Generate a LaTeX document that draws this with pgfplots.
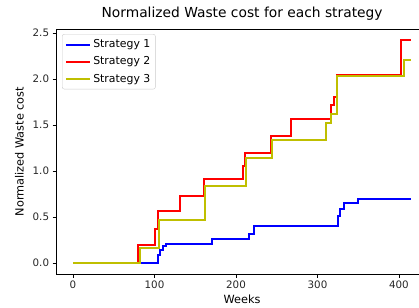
\documentclass[border=0pt]{standalone}
\usepackage{pgfplots}
\pgfplotsset{compat=1.18}
\usepackage{fontspec}
\setmainfont{DejaVu Sans}
\definecolor{myyellow}{rgb}{0.75,0.75,0}
\begin{document}
\begin{tikzpicture}[x=1pt,y=1pt]
\useasboundingbox (0,0) rectangle (419,307);
\begin{axis}[
  at={(56.1pt,32.9pt)}, anchor=south west,
  scale only axis, width=372pt, height=244.9pt,
  xmin=-20.75, xmax=435.75, ymin=-0.121, ymax=2.541,
  xtick={0,100,200,300,400},
  ytick={0,0.5,1,1.5,2,2.5},
  yticklabel style={/pgf/number format/.cd, fixed, fixed zerofill, precision=1},
  /pgf/number format/assume math mode=true,
  tick align=outside, xtick pos=left, ytick pos=left,
  major tick length=3.5pt,
  tick style={black, line width=0.8pt},
  axis line style={black, line width=0.8pt},
  axis y line*=left,
  every tick label/.append style={font=\fontsize{10.3}{12}\selectfont, text=black!85},
  title={Normalized Waste cost for each strategy},
  title style={font=\fontsize{13.8}{16}\selectfont, anchor=base, at={(axis description cs:0.5,1.0245)}, inner sep=0pt},
  xlabel={Weeks},
  xlabel style={font=\fontsize{11.3}{13}\selectfont, anchor=north, at={(axis description cs:0.5,-0.0857)}, inner sep=0pt},
  ylabel={Normalized Waste cost},
  ylabel style={font=\fontsize{11.3}{13}\selectfont, anchor=south, at={(axis description cs:-0.086,0.5)}, inner sep=0pt},
  legend style={at={(axis description cs:0.016,0.98)}, anchor=north west,
    draw=black!20, rounded corners=2pt, fill=white, fill opacity=0.8, text opacity=1,
    font=\fontsize{10.9}{13}\selectfont, inner xsep=3pt, inner ysep=3.5pt,
    row sep=3.5pt},
  legend cell align=left,
  legend image code/.code={\draw[#1] (0pt,0pt) -- (24pt,0pt);},
  clip=false,
]
\addplot[const plot, blue, line width=2pt] coordinates {
(0,0) (104.7,0.087) (107,0.14) (110,0.18) (114,0.21) (170,0.26) (216,0.32) (222.5,0.40)
(325,0.51) (328,0.59) (332,0.655) (350,0.695) (415,0.695)};
\addlegendentry{Strategy 1}
\addplot[const plot, red, line width=2pt] coordinates {
(0,0) (80,0.2) (101,0.37) (104,0.56) (131,0.73) (161,0.91) (208,1.05) (211,1.20)
(243,1.38) (267,1.57) (316,1.72) (320,1.80) (324,2.04) (402,2.42) (414.5,2.42)};
\addlegendentry{Strategy 2}
\addplot[const plot, myyellow, line width=2pt] coordinates {
(0,0) (82,0.16) (106,0.47) (162,0.84) (212,1.14) (244,1.34) (310,1.52) (317,1.62)
(324,2.03) (406,2.21) (415,2.21)};
\addlegendentry{Strategy 3}
\end{axis}
\end{tikzpicture}
\end{document}
